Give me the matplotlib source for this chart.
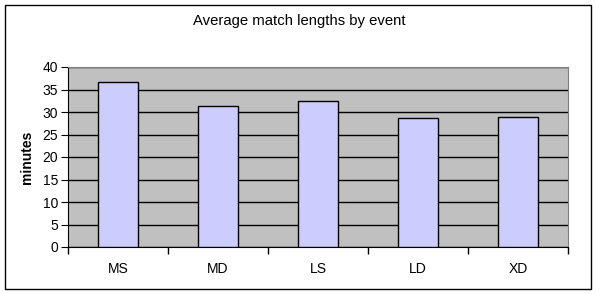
import matplotlib.pyplot as plt
from matplotlib.patches import Rectangle
import numpy as np

events = ['MS', 'MD', 'LS', 'LD', 'XD']
avg_minutes = [36.6, 31.3, 32.4, 28.6, 29.0]

plt.rcParams['font.family'] = ['Liberation Sans', 'DejaVu Sans']

fig = plt.figure(figsize=(5.99, 2.94), dpi=100)
W, H = 599, 294
# outer chart border
fig.patches.append(Rectangle((5 / W, 1 - 289 / H), 586 / W, 284 / H, transform=fig.transFigure,
                             fill=False, edgecolor='black', linewidth=1))

ax = fig.add_axes([68 / W, 1 - 247 / H, 500 / W, 180 / H])
ax.set_facecolor('#C0C0C0')
x = np.arange(len(events))
ax.bar(x, avg_minutes, width=0.4, color='#CCCCFF', edgecolor='black', linewidth=1, zorder=3)

ax.set_xlim(-0.5, len(events) - 0.5)
ax.set_ylim(0, 40)
ax.set_yticks(range(0, 41, 5))
ax.yaxis.grid(True, color='black', linewidth=1, zorder=1)
ax.set_axisbelow(True)
ax.set_xticks(x)
ax.set_xticklabels(events, fontsize=10)
ax.set_xticks(np.arange(-0.5, len(events)), minor=True)
ax.tick_params(axis='x', which='major', length=0, pad=11)
ax.tick_params(axis='x', which='minor', length=5, direction='out', width=1)
ax.tick_params(axis='y', length=5, direction='out', labelsize=10, pad=2)

for s in ['top', 'right']:
    ax.spines[s].set_color('#808080')
for s in ['left', 'bottom']:
    ax.spines[s].set_color('black')

ax.set_ylabel('minutes', fontsize=10, fontweight='bold', labelpad=6)
fig.text(0.5, 1 - 21 / H, 'Average match lengths by event', ha='center', va='center', fontsize=10.75)

fig.savefig('out.png', dpi=100)
